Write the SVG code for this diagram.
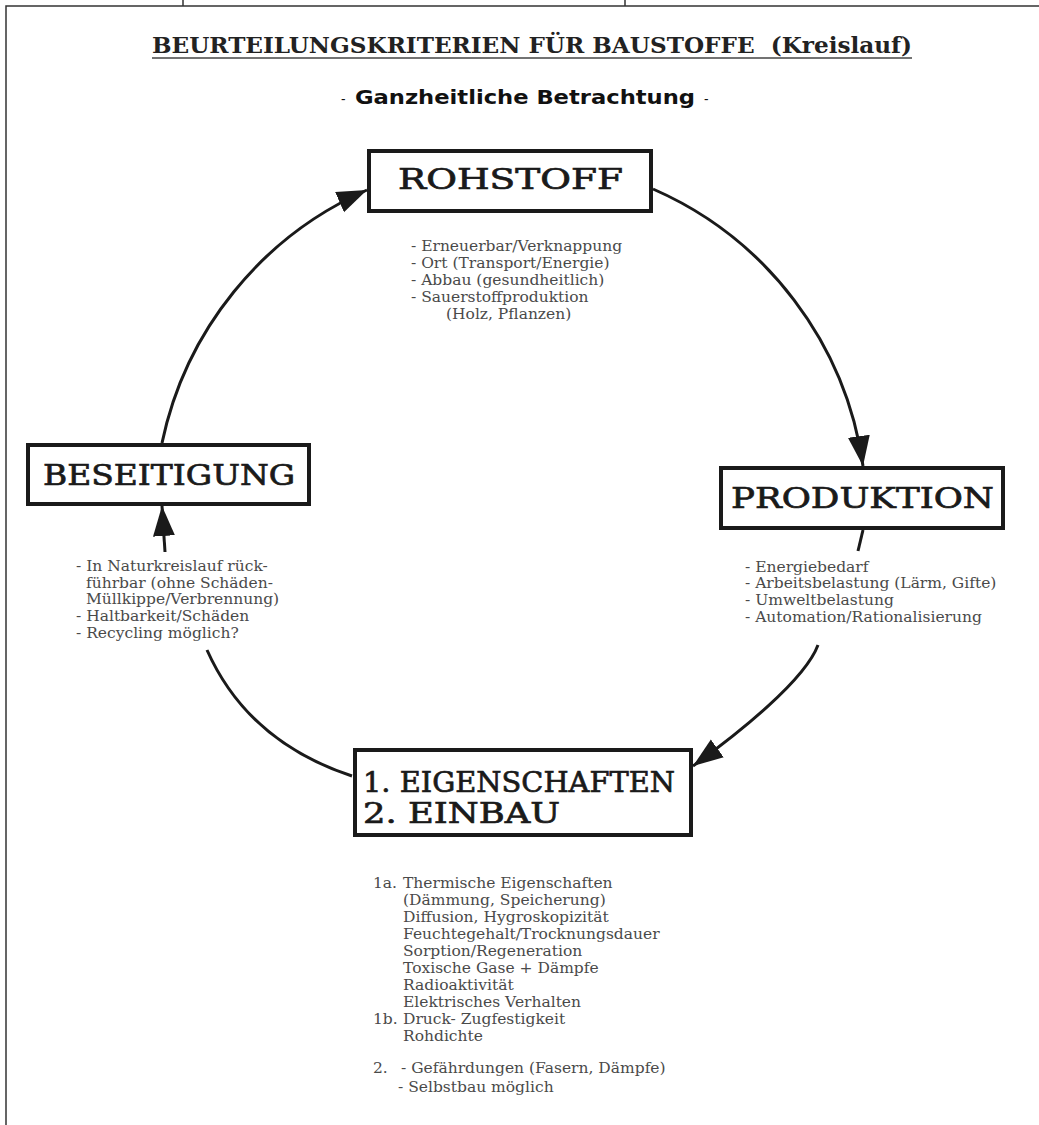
<svg xmlns="http://www.w3.org/2000/svg" width="1039" height="1125" viewBox="0 0 1039 1125">
<style>
.frame{fill:none;stroke:#333;stroke-width:1.5}
.box{fill:#fff;stroke:#1a1a1a;stroke-width:4}
.head{font-family:"DejaVu Serif","Liberation Serif",serif;font-size:28px;fill:#1a1a1a;stroke:#1a1a1a;stroke-width:0.7}
.item{font-family:"DejaVu Serif","Liberation Serif",serif;font-size:15.5px;fill:#4a4a4a}
.arc{fill:none;stroke:#1a1a1a;stroke-width:3}
</style>
<defs>
<marker id="ah" markerUnits="userSpaceOnUse" markerWidth="32" markerHeight="24" refX="30" refY="11" orient="auto">
<path d="M0,0 L30,11 L0,22 Z" fill="#1a1a1a"/>
</marker>
</defs>
<rect width="1039" height="1125" fill="#fff"/>
<g id="frame">
<path class="frame" d="M6,1125 V6 H1039 M183,0 V6 M625,0 V6"/>
</g>
<g id="title">
<text x="152" y="53" textLength="760" lengthAdjust="spacingAndGlyphs" font-family="'DejaVu Serif Condensed','DejaVu Serif',serif" font-weight="bold" font-size="22" fill="#222" xml:space="preserve">BEURTEILUNGSKRITERIEN FÜR BAUSTOFFE  (Kreislauf)</text>
<line x1="152" y1="58" x2="912" y2="58" stroke="#444" stroke-width="1.5"/>
<text x="341" y="104" font-family="'DejaVu Sans Condensed','DejaVu Sans',sans-serif" font-size="20" fill="#111"><tspan font-size="14">-</tspan><tspan x="355" font-weight="bold" textLength="340" lengthAdjust="spacingAndGlyphs">Ganzheitliche Betrachtung</tspan><tspan x="704" font-size="14">-</tspan></text>
</g>
<g id="connectors">
<path class="arc" d="M162,443 A356,356 0 0 1 367,190" marker-end="url(#ah)"/>
<path class="arc" d="M653,189 A356,356 0 0 1 863,466" marker-end="url(#ah)"/>
<path class="arc" d="M818,645 C805,680 740,732 693,766" marker-end="url(#ah)"/>
<path class="arc" d="M207,650 Q248,742 352,776"/>
<path class="arc" d="M165,552 L162,506" marker-end="url(#ah)"/>
<path class="arc" d="M863,530 L858,551"/>
</g>
<g id="rohstoff">
<rect class="box" x="369" y="151" width="282" height="60"/>
<text class="head" x="398" y="189" textLength="225" lengthAdjust="spacingAndGlyphs">ROHSTOFF</text>
<text class="item" x="411" y="251">- Erneuerbar/Verknappung</text>
<text class="item" x="411" y="268">- Ort (Transport/Energie)</text>
<text class="item" x="411" y="285">- Abbau (gesundheitlich)</text>
<text class="item" x="411" y="302">- Sauerstoffproduktion</text>
<text class="item" x="446" y="319">(Holz, Pflanzen)</text>
</g>
<g id="produktion">
<rect class="box" x="721" y="468" width="282" height="60"/>
<text class="head" x="731" y="508" textLength="263" lengthAdjust="spacingAndGlyphs">PRODUKTION</text>
<text class="item" x="745" y="572">- Energiebedarf</text>
<text class="item" x="745" y="588">- Arbeitsbelastung (Lärm, Gifte)</text>
<text class="item" x="745" y="605">- Umweltbelastung</text>
<text class="item" x="745" y="622">- Automation/Rationalisierung</text>
</g>
<g id="beseitigung">
<rect class="box" x="28" y="445" width="281" height="59"/>
<text class="head" x="43" y="485" textLength="252" lengthAdjust="spacingAndGlyphs">BESEITIGUNG</text>
<text class="item" x="76" y="571">- In Naturkreislauf rück-</text>
<text class="item" x="86" y="588">führbar (ohne Schäden-</text>
<text class="item" x="86" y="604">Müllkippe/Verbrennung)</text>
<text class="item" x="76" y="621">- Haltbarkeit/Schäden</text>
<text class="item" x="76" y="638">- Recycling möglich?</text>
</g>
<g id="einbau">
<rect class="box" x="355" y="750" width="336" height="85"/>
<text class="head" x="363" y="792" textLength="312" lengthAdjust="spacingAndGlyphs">1. EIGENSCHAFTEN</text>
<text class="head" x="363" y="823" textLength="197" lengthAdjust="spacingAndGlyphs">2. EINBAU</text>
<text class="item" x="373" y="888">1a.</text>
<text class="item" x="403" y="888">Thermische Eigenschaften</text>
<text class="item" x="403" y="905">(Dämmung, Speicherung)</text>
<text class="item" x="403" y="922">Diffusion, Hygroskopizität</text>
<text class="item" x="403" y="939">Feuchtegehalt/Trocknungsdauer</text>
<text class="item" x="403" y="956">Sorption/Regeneration</text>
<text class="item" x="403" y="973">Toxische Gase + Dämpfe</text>
<text class="item" x="403" y="990">Radioaktivität</text>
<text class="item" x="403" y="1007">Elektrisches Verhalten</text>
<text class="item" x="373" y="1024">1b.</text>
<text class="item" x="403" y="1024">Druck- Zugfestigkeit</text>
<text class="item" x="403" y="1041">Rohdichte</text>
<text class="item" x="373" y="1073">2.</text>
<text class="item" x="401" y="1073">- Gefährdungen (Fasern, Dämpfe)</text>
<text class="item" x="398" y="1092">- Selbstbau möglich</text>
</g>
</svg>
